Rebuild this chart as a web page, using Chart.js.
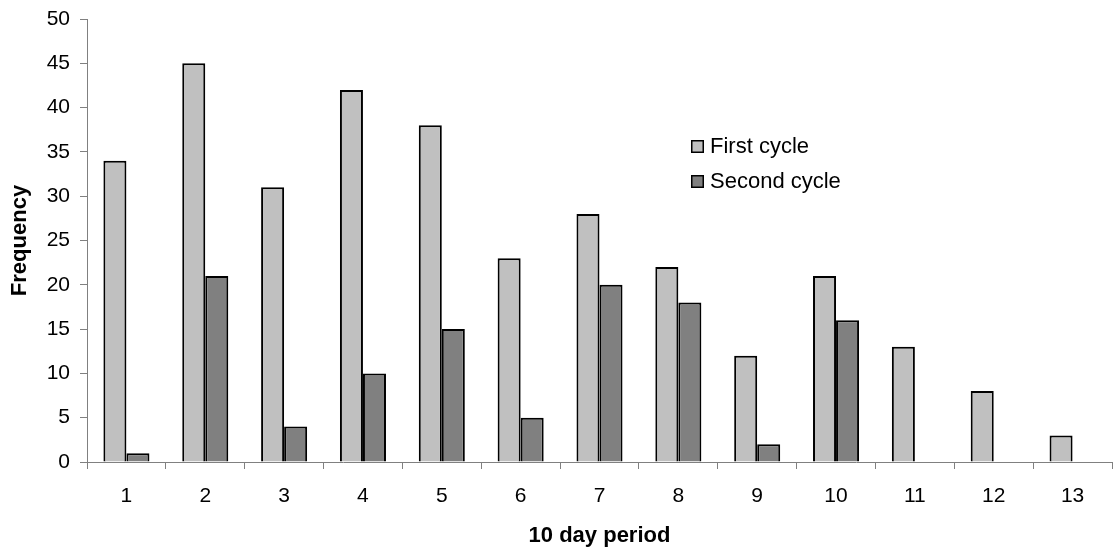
<!DOCTYPE html>
<html>
<head>
<meta charset="utf-8">
<script src="https://cdn.jsdelivr.net/npm/chart.js@4"></script>
<style>
  html, body { margin: 0; padding: 0; background: #fff; }
  #wrap { width: 1115px; height: 554px; }
</style>
</head>
<body>
<div id="wrap"><canvas id="freqChart" width="1115" height="554"></canvas></div>
<script>
'use strict';

const periods     = ['1','2','3','4','5','6','7','8','9','10','11','12','13'];
const firstCycle  = [34, 45, 31, 42, 38, 23, 28, 22, 12, 21, 13, 8, 3];
const secondCycle = [1, 21, 4, 10, 15, 5, 20, 18, 2, 16, 0, 0, 0];
const yTicks      = [0, 5, 10, 15, 20, 25, 30, 35, 40, 45, 50];

const FONT = "'Liberation Sans', Arial, sans-serif";
Chart.defaults.font.family = FONT;
Chart.defaults.color = '#000';

// legend box sitting inside the plot, right of centre
const insideLegend = {
    id: 'insideLegend',
    afterDraw(chart) {
        const c = chart.ctx;
        const x = 691, rows = [146, 181];
        c.save();
        c.font = '22px ' + FONT;
        c.textBaseline = 'middle';
        chart.data.datasets.forEach((ds, i) => {
            const y = rows[i];
            c.fillStyle = ds.backgroundColor;
            c.fillRect(x, y - 6, 13, 13);
            c.strokeStyle = '#000';
            c.lineWidth = 1.5;
            c.strokeRect(x + 0.75, y - 5.25, 11.5, 11.5);
            c.fillStyle = '#000';
            c.fillText(ds.label, x + 19, y + 1);
        });
        c.restore();
    }
};

new Chart(document.getElementById('freqChart'), {
    type: 'bar',
    data: {
        labels: periods,
        datasets: [
            { label: 'First cycle',  data: firstCycle,  backgroundColor: '#c0c0c0', borderColor: '#000', borderWidth: 2 },
            { label: 'Second cycle', data: secondCycle, backgroundColor: '#808080', borderColor: '#000', borderWidth: 2 },
        ]
    },
    options: {
        responsive: false,
        animation: false,
        layout: { padding: { top: 19, right: 3 } },
        datasets: { bar: { categoryPercentage: 0.584, barPercentage: 1 } },
        plugins: { legend: { display: false }, tooltip: { enabled: false } },
        scales: {
            x: {
                grid: { display: true, drawOnChartArea: false, offset: true, tickLength: 7, color: '#808080' },
                border: { color: '#808080', width: 1 },
                ticks: { font: { size: 21 }, padding: 15 },
                title: { display: true, text: '10 day period', font: { size: 22, weight: 'bold' }, padding: { top: 4, bottom: 5 } },
                afterFit: s => { s.height = 92; s.paddingLeft = 0; s.paddingRight = 0; }
            },
            y: {
                min: 0, max: 50,
                afterBuildTicks: s => { s.ticks = yTicks.map(v => ({ value: v })); },
                grid: { display: true, drawOnChartArea: false, tickLength: 7, color: '#808080' },
                border: { color: '#808080', width: 1 },
                ticks: { font: { size: 21 }, padding: 10 },
                title: { display: true, text: 'Frequency', font: { size: 22, weight: 'bold' }, padding: { top: 7, bottom: 0 } },
                afterFit: s => { s.width = 87; s.paddingTop = 0; s.paddingBottom = 0; }
            }
        }
    },
    plugins: [insideLegend]
});
</script>
</body>
</html>
